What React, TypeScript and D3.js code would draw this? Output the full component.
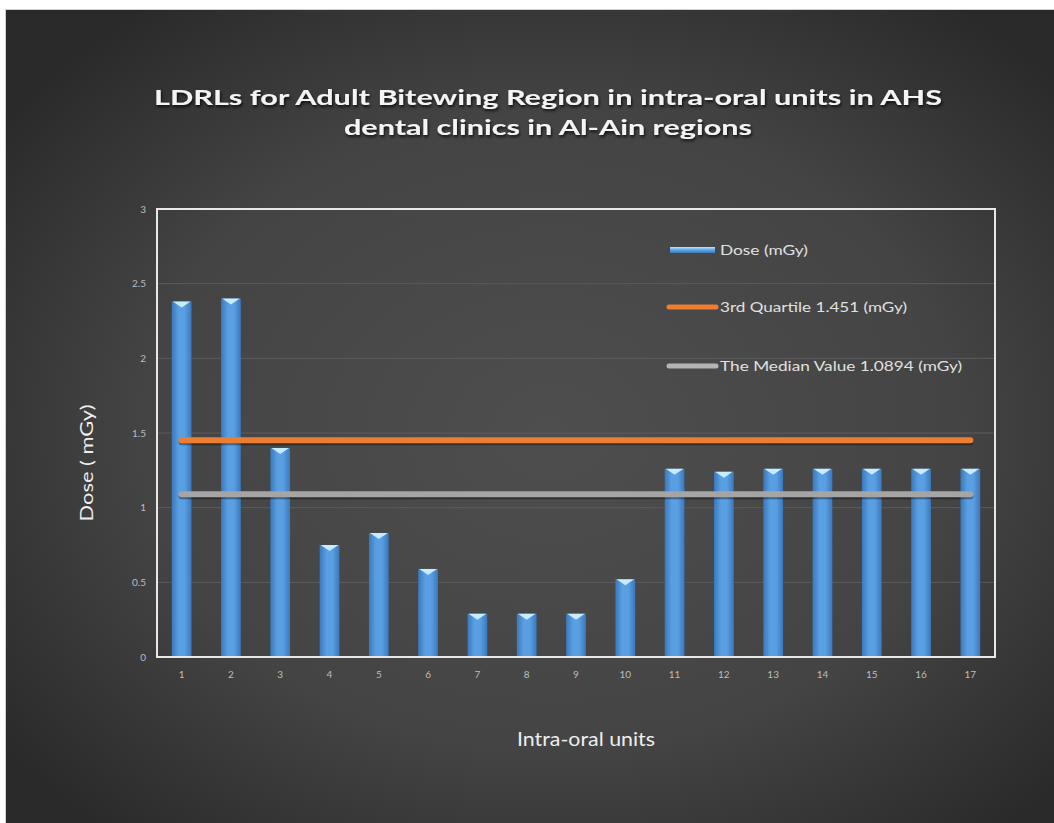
import React from "react";
import * as d3 from "d3";

const units = ["1","2","3","4","5","6","7","8","9","10","11","12","13","14","15","16","17"];
const dose = [2.38, 2.40, 1.40, 0.75, 0.83, 0.59, 0.29, 0.29, 0.29, 0.52, 1.26, 1.24, 1.26, 1.26, 1.26, 1.26, 1.26];
const thirdQuartile = 1.451;
const median = 1.0894;
const yTicks = [0, 0.5, 1, 1.5, 2, 2.5, 3];
const titleLines = ["LDRLs for Adult Bitewing Region in  intra-oral units in AHS", "dental clinics in Al-Ain regions"];
const legendLabels = ["Dose (mGy)", "3rd Quartile 1.451 (mGy)", "The Median Value 1.0894 (mGy)"];

const W = 1054, H = 823;
const plot = { left: 157, right: 995, top: 209, bottom: 657 };
const font = "Lato, 'Open Sans', sans-serif";

export default function App() {
  const x = d3.scaleBand<string>().domain(units).range([plot.left, plot.right]).paddingInner(0.6).paddingOuter(0.3);
  const y = d3.scaleLinear().domain([0, 3]).range([plot.bottom, plot.top]);
  const bw = x.bandwidth();
  const xFirst = (x(units[0]) as number) + bw / 2;
  const xLast = (x(units[units.length - 1]) as number) + bw / 2;

  const refLine = (v: number, color: string) => (
    <g>
      <line x1={xFirst} x2={xLast} y1={y(v) + 2} y2={y(v) + 2} stroke="#000" strokeOpacity={0.35} strokeWidth={6} strokeLinecap="round" />
      <line x1={xFirst} x2={xLast} y1={y(v)} y2={y(v)} stroke={color} strokeWidth={6} strokeLinecap="round" />
    </g>
  );

  return (
    <svg width={W} height={H} style={{ position: "absolute", left: 0, top: 0, display: "block" }}>
      <defs>
        <radialGradient id="bg" cx="52%" cy="52%" r="65%">
          <stop offset="0%" stopColor="#4e4e4e" />
          <stop offset="60%" stopColor="#444" />
          <stop offset="100%" stopColor="#2a2a2a" />
        </radialGradient>
        <linearGradient id="bar" x1="0" x2="1" y1="0" y2="0">
          <stop offset="0%" stopColor="#3a78bb" />
          <stop offset="35%" stopColor="#5a9fe2" />
          <stop offset="65%" stopColor="#5a9fe2" />
          <stop offset="100%" stopColor="#3a78bb" />
        </linearGradient>
        <linearGradient id="legbar" x1="0" x2="0" y1="0" y2="1">
          <stop offset="0%" stopColor="#bfe6ff" />
          <stop offset="40%" stopColor="#6ab0ec" />
          <stop offset="100%" stopColor="#3a78bb" />
        </linearGradient>
        <filter id="shadow" x="-5%" y="-20%" width="110%" height="160%">
          <feDropShadow dx="1" dy="2" stdDeviation="1.5" floodColor="#000" floodOpacity="0.8" />
        </filter>
      </defs>
      <rect x={0} y={0} width={W} height={H} fill="#ffffff" />
      <rect x={5} y={9} width={W - 5} height={H - 9} fill="#cfcfcf" />
      <rect x={6} y={10} width={W - 6} height={H - 10} fill="url(#bg)" />

      {titleLines.map((t, i) => (
        <text key={i} x={548} y={105 + i * 30} textAnchor="middle" fill="#f4f4f4" fontFamily={font}
          fontWeight={700} fontSize={21} filter="url(#shadow)"
          textLength={i === 0 ? 788 : 408} lengthAdjust="spacingAndGlyphs">{t}</text>
      ))}

      {yTicks.filter(v => v > 0).map(v => (
        <line key={v} x1={plot.left} x2={plot.right} y1={y(v)} y2={y(v)} stroke="#5c5c5c" strokeWidth={1} />
      ))}

      {dose.map((v, i) => {
        const bx = x(units[i]) as number;
        const top = y(v);
        return (
          <g key={i}>
            <rect x={bx} y={top} width={bw} height={plot.bottom - top} fill="url(#bar)" />
            <path d={`M${bx + 1},${top} L${bx + bw - 1},${top} L${bx + bw / 2},${top + 6} Z`} fill="#c6ecff" />
          </g>
        );
      })}

      {refLine(thirdQuartile, "#ed7d31")}
      {refLine(median, "#a5a5a5")}

      <rect x={plot.left} y={plot.top} width={plot.right - plot.left} height={plot.bottom - plot.top} fill="none" stroke="#e8e8e8" strokeWidth={2} />

      {yTicks.map(v => (
        <text key={v} x={146} y={y(v) + 3.5} textAnchor="end" fill="#bdbdbd" fontFamily={font} fontSize={10}>{v}</text>
      ))}
      {units.map(u => (
        <text key={u} x={(x(u) as number) + bw / 2} y={678} textAnchor="middle" fill="#bdbdbd" fontFamily={font} fontSize={10}>{u}</text>
      ))}

      <text transform={`translate(93,463) rotate(-90)`} textAnchor="middle" fill="#eeeeee" fontFamily={font} fontSize={18}
        textLength={117} lengthAdjust="spacingAndGlyphs">Dose ( mGy)</text>
      <text x={586} y={746} textAnchor="middle" fill="#eeeeee" fontFamily={font} fontSize={19}
        textLength={138} lengthAdjust="spacingAndGlyphs">Intra-oral units</text>

      <g fontFamily={font} fontSize={14} fill="#e0e0e0">
        <rect x={670} y={247} width={45} height={6} fill="url(#legbar)" />
        <text x={720} y={255} textLength={88} lengthAdjust="spacingAndGlyphs">{legendLabels[0]}</text>
        <line x1={669} x2={716} y1={307} y2={307} stroke="#ed7d31" strokeWidth={5} strokeLinecap="round" />
        <text x={720} y={312} textLength={187} lengthAdjust="spacingAndGlyphs">{legendLabels[1]}</text>
        <line x1={669} x2={716} y1={366} y2={366} stroke="#b4b4b4" strokeWidth={5} strokeLinecap="round" />
        <text x={720} y={371} textLength={242} lengthAdjust="spacingAndGlyphs">{legendLabels[2]}</text>
      </g>
    </svg>
  );
}
